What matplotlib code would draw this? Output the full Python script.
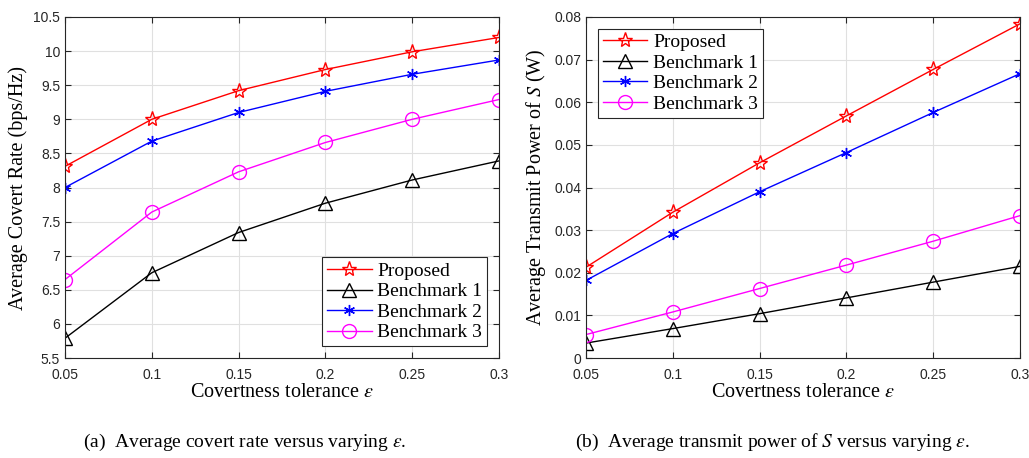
import numpy as np
import matplotlib.pyplot as plt

plt.rcParams['mathtext.fontset'] = 'stix'

eps = [0.05, 0.1, 0.15, 0.2, 0.25, 0.3]
xticklabels = ['0.05', '0.1', '0.15', '0.2', '0.25', '0.3']

# (a) average covert rate
rate_prop = [8.31, 9.00, 9.42, 9.73, 9.99, 10.20]
rate_b1 = [5.79, 6.75, 7.34, 7.77, 8.11, 8.39]
rate_b2 = [8.00, 8.68, 9.10, 9.41, 9.66, 9.87]
rate_b3 = [6.65, 7.64, 8.23, 8.66, 9.00, 9.29]

# (b) average transmit power
pow_prop = [0.0213, 0.0342, 0.0458, 0.0568, 0.0677, 0.0784]
pow_b1 = [0.0035, 0.0069, 0.0104, 0.0141, 0.0178, 0.0215]
pow_b2 = [0.0182, 0.0292, 0.0390, 0.0482, 0.0576, 0.0667]
pow_b3 = [0.0055, 0.0108, 0.0163, 0.0218, 0.0274, 0.0334]

names = ['Proposed', 'Benchmark 1', 'Benchmark 2', 'Benchmark 3']
styles = [dict(color='red', marker='*', ms=11, mfc='none'),
          dict(color='black', marker='^', ms=10, mfc='none'),
          dict(color='blue', marker=(6, 2, 0), ms=8, mfc='none'),
          dict(color='magenta', marker='o', ms=10, mfc='none')]

serif = 'Liberation Serif'
sans = 'Liberation Sans'

fig = plt.figure(figsize=(10.29, 4.58), dpi=100)
ax1 = fig.add_axes([65/1029, 1-358/458, 434/1029, 341/458])
ax2 = fig.add_axes([586/1029, 1-358/458, 434/1029, 341/458])


def draw(ax, series, ylim, yticks, yticklabels, ylabel, loc):
    for s, n, st in zip(series, names, styles):
        ax.plot(eps, s, lw=1, mew=1, label=n, **st)
    ax.set_xlim(0.05, 0.3)
    ax.set_ylim(*ylim)
    ax.set_xticks(eps)
    ax.set_xticklabels(xticklabels, fontfamily=sans, fontsize=10)
    ax.set_yticks(yticks)
    ax.set_yticklabels(yticklabels, fontfamily=sans, fontsize=10)
    ax.tick_params(direction='in', length=4, top=True, right=True, colors='#262626')
    ax.tick_params(axis='x', pad=7)
    ax.grid(True, color='#e0e0e0', lw=0.8)
    ax.set_axisbelow(True)
    for sp in ax.spines.values():
        sp.set_color('#262626')
    ax.set_xlabel(r'Covertness tolerance $\varepsilon$', fontfamily=serif, fontsize=14.5, labelpad=1)
    ax.set_ylabel(ylabel, fontfamily=serif, fontsize=14.5, labelpad=4)
    leg = ax.legend(loc=loc, prop={'family': serif, 'size': 14}, fancybox=False,
                    edgecolor='#262626', framealpha=1, handlelength=2.3,
                    borderpad=0.25, labelspacing=0.15, handletextpad=0.3, borderaxespad=0.6)
    leg.get_frame().set_linewidth(0.8)


draw(ax1, [rate_prop, rate_b1, rate_b2, rate_b3], (5.5, 10.5),
     np.arange(5.5, 10.51, 0.5),
     ['5.5', '6', '6.5', '7', '7.5', '8', '8.5', '9', '9.5', '10', '10.5'],
     'Average Covert Rate (bps/Hz)', 'lower right')
draw(ax2, [pow_prop, pow_b1, pow_b2, pow_b3], (0, 0.08),
     np.arange(0, 0.081, 0.01),
     ['0', '0.01', '0.02', '0.03', '0.04', '0.05', '0.06', '0.07', '0.08'],
     r'Average Transmit Power of $S$ (W)', 'upper left')

fig.text(245/1029, 1-442/458, r'(a)  Average covert rate versus varying $\varepsilon$.',
         fontfamily=serif, fontsize=14, ha='center', va='center')
fig.text(772/1029, 1-442/458, r'(b)  Average transmit power of $S$ versus varying $\varepsilon$.',
         fontfamily=serif, fontsize=14, ha='center', va='center')

fig.savefig('out.png', dpi=100)
